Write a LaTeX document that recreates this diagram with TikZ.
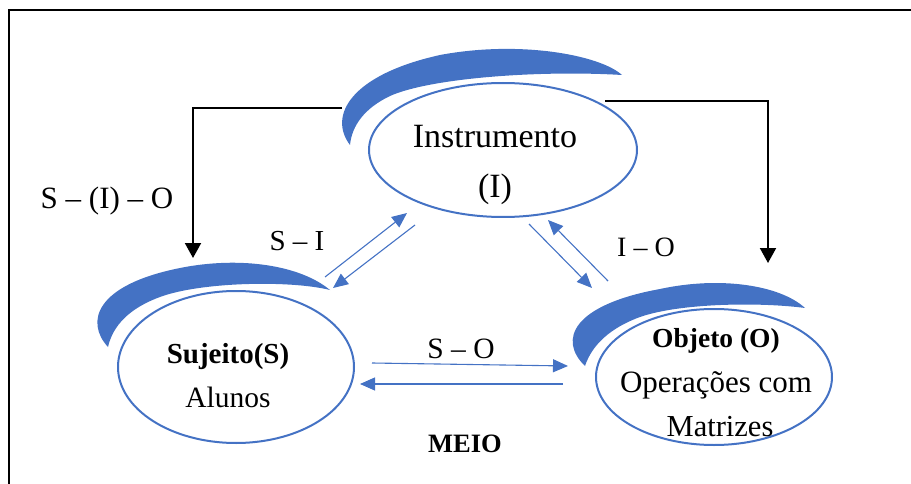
\documentclass[tikz,border=0pt]{standalone}
\usepackage{fontspec}
\setmainfont{Liberation Serif}
\usetikzlibrary{arrows.meta,shapes.geometric}
\definecolor{officeblue}{HTML}{4472C4}

\begin{document}
\begin{tikzpicture}[x=1pt,y=-1pt,
  frame/.style={line width=2.8pt},
  crescent/.style={fill=officeblue, draw=none},
  actor/.style={ellipse, draw=officeblue, line width=2pt, inner sep=0pt},
  flow/.style={draw=officeblue, line width=1.1pt, -{Triangle[length=15pt,width=13pt]}},
  link/.style={line width=2pt, -{Triangle[length=15pt,width=16pt]}},
  txt/.style={anchor=base, inner sep=0pt},
  big/.style={font=\fontsize{34}{40}\selectfont},
  mid/.style={font=\fontsize{30}{36}\selectfont},
]
\useasboundingbox (0,0) rectangle (911,484);

% outer frame (open to the right and bottom)
\draw[frame] (9,490) -- (9,10) -- (920,10);

% black elbow connectors
\coordinate (ilft) at (342,108);
\coordinate (irgt) at (605,101);
\coordinate (stop) at (193,258);
\coordinate (otop) at (768,263);
\draw[link] (ilft) -| (stop);
\draw[link] (irgt) -| (otop);

% crescents above the three ellipses
\fill[crescent] (350,145) .. controls (328,116) and (350,75) .. (440,55)
  .. controls (520,40) and (600,55) .. (622,75)
  .. controls (540,70) and (430,78) .. (390,96)
  .. controls (365,108) and (352,125) .. (350,145) -- cycle;
\fill[crescent] (108,347) .. controls (85,322) and (95,285) .. (180,268)
  .. controls (240,256) and (300,265) .. (330,290)
  .. controls (290,280) and (200,282) .. (160,297)
  .. controls (130,308) and (113,325) .. (108,347) -- cycle;
\fill[crescent] (585,366) .. controls (558,340) and (572,305) .. (660,289)
  .. controls (720,276) and (780,285) .. (805,308)
  .. controls (760,302) and (680,303) .. (640,317)
  .. controls (610,328) and (592,345) .. (585,366) -- cycle;

% ellipses
\node[actor, minimum width=268pt, minimum height=134pt] (I) at (503,150) {};
\node[actor, minimum width=236pt, minimum height=152pt] (S) at (236,367) {};
\node[actor, minimum width=236pt, minimum height=136pt] (O) at (714,377) {};

% blue double arrows
\coordinate (si1) at (325,277); \coordinate (si2) at (407,213);
\coordinate (is1) at (415,225); \coordinate (is2) at (333,288);
\coordinate (io1) at (529,224); \coordinate (io2) at (592,288);
\coordinate (oi1) at (608,281); \coordinate (oi2) at (548,220);
\coordinate (so1) at (372,363); \coordinate (so2) at (568,366);
\coordinate (os1) at (563,384); \coordinate (os2) at (360,384);
\draw[flow] (si1) -- (si2);
\draw[flow] (is1) -- (is2);
\draw[flow] (io1) -- (io2);
\draw[flow] (oi1) -- (oi2);
\draw[flow] (so1) -- (so2);
\draw[flow] (os1) -- (os2);

% texts
\node[txt, big] (tI1) at (495,148) {Instrumento};
\node[txt, big] (tI2) at (495,198) {(I)};
\node[txt, font=\fontsize{29}{34}\selectfont\bfseries] (tS1) at (228,363) {Sujeito(S)};
\node[txt, font=\fontsize{29.5}{34}\selectfont] (tS2) at (228,407) {Alunos};
\node[txt, font=\fontsize{27.5}{34}\selectfont\bfseries] (tO1) at (716,347) {Objeto (O)};
\node[txt, font=\fontsize{31}{36}\selectfont] (tO2) at (716,392) {Operações com};
\node[txt, font=\fontsize{30.5}{36}\selectfont] (tO3) at (720,436) {Matrizes};

\node[txt, font=\fontsize{31}{36}\selectfont] (lSIO) at (107,208) {S – (I) – O};
\node[txt, font=\fontsize{29}{34}\selectfont] (lSI) at (297,251) {S – I};
\node[txt, font=\fontsize{28}{34}\selectfont] (lIO) at (646,256) {I – O};
\node[txt, font=\fontsize{29.5}{34}\selectfont] (lSO) at (461,358) {S – O};
\node[txt, font=\fontsize{26.5}{32}\selectfont\bfseries] (lM) at (465,452) {MEIO};
\end{tikzpicture}
\end{document}
